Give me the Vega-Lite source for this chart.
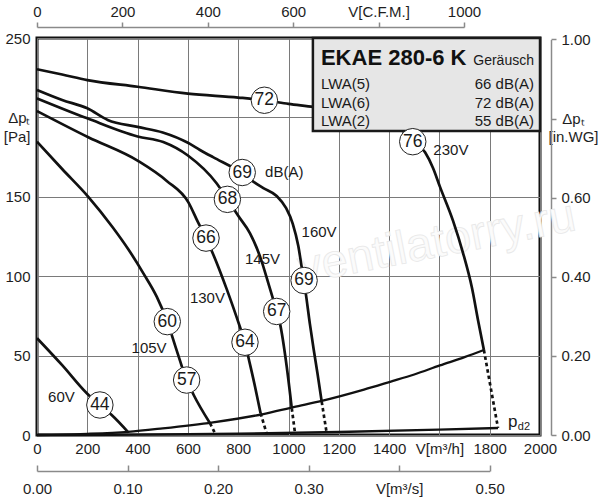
{
  "$schema": "https://vega.github.io/schema/vega-lite/v6.json",
  "width": 503,
  "height": 397,
  "autosize": "none",
  "padding": {"left": 37, "top": 38, "right": 60, "bottom": 65},
  "background": "white",
  "config": {
    "font": "Liberation Sans",
    "view": {"stroke": "#111", "strokeWidth": 3},
    "axis": {"labelFont": "Liberation Sans", "labelColor": "#1e1e1e", "labelFontSize": 15, "labelFlush": false, "title": null}
  },
  "datasets": {
    "curves": [
      {"s": "230V", "k": "solid", "v": 0, "p": 230.3},
      {"s": "230V", "k": "solid", "v": 100, "p": 227},
      {"s": "230V", "k": "solid", "v": 200, "p": 223.5},
      {"s": "230V", "k": "solid", "v": 400, "p": 219.3},
      {"s": "230V", "k": "solid", "v": 600, "p": 215},
      {"s": "230V", "k": "solid", "v": 800, "p": 212.5},
      {"s": "230V", "k": "solid", "v": 904, "p": 210.8},
      {"s": "230V", "k": "solid", "v": 1000, "p": 208.5},
      {"s": "230V", "k": "solid", "v": 1100, "p": 206.5},
      {"s": "230V", "k": "solid", "v": 1200, "p": 204},
      {"s": "230V", "k": "solid", "v": 1300, "p": 201},
      {"s": "230V", "k": "solid", "v": 1400, "p": 197},
      {"s": "230V", "k": "solid", "v": 1450, "p": 192},
      {"s": "230V", "k": "solid", "v": 1494, "p": 185.5},
      {"s": "230V", "k": "solid", "v": 1543, "p": 178},
      {"s": "230V", "k": "solid", "v": 1575, "p": 168},
      {"s": "230V", "k": "solid", "v": 1602, "p": 156.4},
      {"s": "230V", "k": "solid", "v": 1654, "p": 135},
      {"s": "230V", "k": "solid", "v": 1694, "p": 114.6},
      {"s": "230V", "k": "solid", "v": 1729, "p": 93},
      {"s": "230V", "k": "solid", "v": 1754, "p": 72},
      {"s": "230V", "k": "solid", "v": 1777, "p": 53.5},
      {"s": "230V", "k": "dash", "v": 1777, "p": 53.5},
      {"s": "230V", "k": "dash", "v": 1833, "p": 4.4},
      {"s": "160V", "k": "solid", "v": 0, "p": 217.3},
      {"s": "160V", "k": "solid", "v": 100, "p": 211},
      {"s": "160V", "k": "solid", "v": 200, "p": 205.7},
      {"s": "160V", "k": "solid", "v": 281, "p": 198.4},
      {"s": "160V", "k": "solid", "v": 400, "p": 194},
      {"s": "160V", "k": "solid", "v": 500, "p": 190.5},
      {"s": "160V", "k": "solid", "v": 600, "p": 184},
      {"s": "160V", "k": "solid", "v": 648, "p": 179.5},
      {"s": "160V", "k": "solid", "v": 700, "p": 175},
      {"s": "160V", "k": "solid", "v": 760, "p": 170},
      {"s": "160V", "k": "solid", "v": 816, "p": 165.3},
      {"s": "160V", "k": "solid", "v": 860, "p": 159.5},
      {"s": "160V", "k": "solid", "v": 900, "p": 155.5},
      {"s": "160V", "k": "solid", "v": 953, "p": 150.5},
      {"s": "160V", "k": "solid", "v": 990, "p": 143},
      {"s": "160V", "k": "solid", "v": 1017, "p": 133},
      {"s": "160V", "k": "solid", "v": 1039, "p": 119},
      {"s": "160V", "k": "solid", "v": 1055, "p": 103},
      {"s": "160V", "k": "solid", "v": 1068, "p": 90},
      {"s": "160V", "k": "solid", "v": 1085, "p": 70},
      {"s": "160V", "k": "solid", "v": 1100, "p": 54},
      {"s": "160V", "k": "solid", "v": 1115, "p": 39},
      {"s": "160V", "k": "solid", "v": 1132, "p": 21},
      {"s": "160V", "k": "dash", "v": 1132, "p": 21},
      {"s": "160V", "k": "dash", "v": 1152, "p": 1},
      {"s": "145V", "k": "solid", "v": 0, "p": 212},
      {"s": "145V", "k": "solid", "v": 200, "p": 199.4},
      {"s": "145V", "k": "solid", "v": 400, "p": 188},
      {"s": "145V", "k": "solid", "v": 502, "p": 184.5},
      {"s": "145V", "k": "solid", "v": 600, "p": 176},
      {"s": "145V", "k": "solid", "v": 714, "p": 158.5},
      {"s": "145V", "k": "solid", "v": 757, "p": 148.4},
      {"s": "145V", "k": "solid", "v": 800, "p": 138},
      {"s": "145V", "k": "solid", "v": 847, "p": 127},
      {"s": "145V", "k": "solid", "v": 887, "p": 112.3},
      {"s": "145V", "k": "solid", "v": 920, "p": 95.5},
      {"s": "145V", "k": "solid", "v": 953, "p": 77.8},
      {"s": "145V", "k": "solid", "v": 966, "p": 70.3},
      {"s": "145V", "k": "solid", "v": 993, "p": 43},
      {"s": "145V", "k": "solid", "v": 1013, "p": 16.8},
      {"s": "145V", "k": "dash", "v": 1013, "p": 16.8},
      {"s": "145V", "k": "dash", "v": 1026, "p": 1},
      {"s": "130V", "k": "solid", "v": 0, "p": 204},
      {"s": "130V", "k": "solid", "v": 204, "p": 187.5},
      {"s": "130V", "k": "solid", "v": 403, "p": 172.5},
      {"s": "130V", "k": "solid", "v": 516, "p": 160},
      {"s": "130V", "k": "solid", "v": 602, "p": 146.5},
      {"s": "130V", "k": "solid", "v": 640, "p": 134},
      {"s": "130V", "k": "solid", "v": 672, "p": 124},
      {"s": "130V", "k": "solid", "v": 700, "p": 114},
      {"s": "130V", "k": "solid", "v": 754, "p": 92},
      {"s": "130V", "k": "solid", "v": 807, "p": 68},
      {"s": "130V", "k": "solid", "v": 827, "p": 58.4},
      {"s": "130V", "k": "solid", "v": 840, "p": 49.3},
      {"s": "130V", "k": "solid", "v": 867, "p": 30.4},
      {"s": "130V", "k": "solid", "v": 889, "p": 13.7},
      {"s": "130V", "k": "dash", "v": 889, "p": 13.7},
      {"s": "130V", "k": "dash", "v": 913, "p": 1},
      {"s": "105V", "k": "solid", "v": 0, "p": 184.7},
      {"s": "105V", "k": "solid", "v": 100, "p": 167.5},
      {"s": "105V", "k": "solid", "v": 204, "p": 150},
      {"s": "105V", "k": "solid", "v": 300, "p": 131},
      {"s": "105V", "k": "solid", "v": 365, "p": 116.5},
      {"s": "105V", "k": "solid", "v": 423, "p": 101.8},
      {"s": "105V", "k": "solid", "v": 476, "p": 87.1},
      {"s": "105V", "k": "solid", "v": 518, "p": 71.4},
      {"s": "105V", "k": "solid", "v": 556, "p": 53},
      {"s": "105V", "k": "solid", "v": 595, "p": 34.6},
      {"s": "105V", "k": "solid", "v": 622, "p": 25.5},
      {"s": "105V", "k": "solid", "v": 688, "p": 7.4},
      {"s": "105V", "k": "dash", "v": 688, "p": 7.4},
      {"s": "105V", "k": "dash", "v": 708, "p": 1},
      {"s": "60V", "k": "solid", "v": 0, "p": 61},
      {"s": "60V", "k": "solid", "v": 100, "p": 44},
      {"s": "60V", "k": "solid", "v": 198, "p": 26.3},
      {"s": "60V", "k": "solid", "v": 250, "p": 18.9},
      {"s": "60V", "k": "solid", "v": 297, "p": 12.6},
      {"s": "60V", "k": "solid", "v": 363, "p": 1.7},
      {"s": "sys", "k": "sys", "v": 0, "p": 0},
      {"s": "sys", "k": "sys", "v": 100, "p": 0.2},
      {"s": "sys", "k": "sys", "v": 200, "p": 0.7},
      {"s": "sys", "k": "sys", "v": 362, "p": 2},
      {"s": "sys", "k": "sys", "v": 500, "p": 4.2},
      {"s": "sys", "k": "sys", "v": 700, "p": 8},
      {"s": "sys", "k": "sys", "v": 900, "p": 13.2},
      {"s": "sys", "k": "sys", "v": 1020, "p": 17.6},
      {"s": "sys", "k": "sys", "v": 1132, "p": 21.5},
      {"s": "sys", "k": "sys", "v": 1300, "p": 28.6},
      {"s": "sys", "k": "sys", "v": 1404, "p": 33.5},
      {"s": "sys", "k": "sys", "v": 1500, "p": 38.1},
      {"s": "sys", "k": "sys", "v": 1602, "p": 43.8},
      {"s": "sys", "k": "sys", "v": 1700, "p": 49},
      {"s": "sys", "k": "sys", "v": 1777, "p": 53.5},
      {"s": "pd2", "k": "sys", "v": 0, "p": 0},
      {"s": "pd2", "k": "sys", "v": 400, "p": 0.2},
      {"s": "pd2", "k": "sys", "v": 800, "p": 0.8},
      {"s": "pd2", "k": "sys", "v": 1200, "p": 1.9},
      {"s": "pd2", "k": "sys", "v": 1600, "p": 3.4},
      {"s": "pd2", "k": "sys", "v": 1833, "p": 4.4}
    ],
    "circles": [
      {"t": "72", "v": 904, "p": 210.8},
      {"t": "76", "v": 1494, "p": 184.7},
      {"t": "69", "v": 816, "p": 165.3},
      {"t": "68", "v": 757, "p": 148.4},
      {"t": "66", "v": 672, "p": 124},
      {"t": "69", "v": 1062, "p": 97.3},
      {"t": "67", "v": 953, "p": 77.8},
      {"t": "64", "v": 827, "p": 58.4},
      {"t": "60", "v": 518, "p": 71.4},
      {"t": "57", "v": 595, "p": 34.6},
      {"t": "44", "v": 250, "p": 18.9}
    ],
    "labels": [
      {"t": "dB(A)", "v": 907, "p": 165.4},
      {"t": "160V", "v": 1052, "p": 128},
      {"t": "145V", "v": 827, "p": 111},
      {"t": "130V", "v": 608, "p": 86},
      {"t": "105V", "v": 376, "p": 54.6},
      {"t": "60V", "v": 44, "p": 24},
      {"t": "230V", "v": 1576, "p": 179.5}
    ],
    "box": [{"v": 1097, "v2": 2000, "p": 191.5, "p2": 250}],
    "boxLeft": [
      {"t": "LWA(5)", "v": 1129, "p": 217.9},
      {"t": "LWA(6)", "v": 1129, "p": 205.9},
      {"t": "LWA(2)", "v": 1129, "p": 194.6}
    ],
    "boxRight": [
      {"t": "66 dB(A)", "v": 1976, "p": 217.9},
      {"t": "72 dB(A)", "v": 1976, "p": 205.9},
      {"t": "55 dB(A)", "v": 1976, "p": 194.6}
    ]
  },
  "layer": [
    {
      "encoding": {
        "x": {
          "field": "v",
          "type": "quantitative",
          "scale": {"domain": [0, 2000], "nice": false},
          "axis": {
            "values": [0, 200, 400, 600, 800, 1000, 1200, 1400, 1600, 1800, 2000],
            "format": "d",
            "labelExpr": "datum.value == 1600 ? 'V[m³/h]' : datum.label",
            "grid": true,
            "gridColor": "#7a7a7a",
            "gridWidth": 1,
            "ticks": false,
            "domain": false,
            "labelPadding": 6
          }
        },
        "y": {
          "field": "p",
          "type": "quantitative",
          "scale": {"domain": [0, 250], "nice": false},
          "axis": {
            "values": [0, 50, 100, 150, 200, 250],
            "labelExpr": "datum.value == 200 ? ['Δpₜ', '[Pa]'] : datum.label",
            "labelLineHeight": 19,
            "grid": true,
            "gridColor": "#7a7a7a",
            "gridWidth": 1,
            "ticks": false,
            "domain": false,
            "labelPadding": 7
          }
        }
      },
      "layer": [
        {
          "data": {"values": [{"t": "ventilatorry.ru", "v": 1590, "p": 121}]},
          "mark": {"type": "text", "fontSize": 47, "angle": -11, "fill": "#fbfbfb", "stroke": "#e8e8e8", "strokeWidth": 0.8},
          "encoding": {"text": {"field": "t"}}
        },
        {
          "data": {"name": "curves"},
          "transform": [{"filter": "datum.k == 'sys'"}],
          "mark": {"type": "line", "color": "#111", "strokeWidth": 2.3, "interpolate": "monotone"},
          "encoding": {"detail": {"field": "s"}}
        },
        {
          "data": {"name": "curves"},
          "transform": [{"filter": "datum.k == 'solid'"}],
          "mark": {"type": "line", "color": "#111", "strokeWidth": 2.7, "interpolate": "monotone"},
          "encoding": {"detail": {"field": "s"}}
        },
        {
          "data": {"name": "curves"},
          "transform": [{"filter": "datum.k == 'dash'"}],
          "mark": {"type": "line", "color": "#111", "strokeWidth": 2.7, "strokeDash": [3.5, 3]},
          "encoding": {"detail": {"field": "s"}}
        },
        {
          "data": {"name": "box"},
          "mark": {"type": "rect", "fill": "#e6e6e6", "stroke": "#1a1a1a", "strokeWidth": 2.5},
          "encoding": {"x2": {"field": "v2"}, "y2": {"field": "p2"}}
        },
        {
          "data": {"name": "circles"},
          "mark": {"type": "point", "shape": "circle", "filled": true, "fill": "white", "stroke": "#222", "strokeWidth": 1, "size": 700, "opacity": 1}
        },
        {
          "data": {"name": "circles"},
          "mark": {"type": "text", "fontSize": 17.5, "color": "#1a1a1a", "align": "center", "baseline": "middle"},
          "encoding": {"text": {"field": "t"}}
        },
        {
          "data": {"name": "labels"},
          "mark": {"type": "text", "fontSize": 15, "color": "#1a1a1a", "align": "left", "baseline": "middle"},
          "encoding": {"text": {"field": "t"}}
        },
        {
          "data": {"values": [{"t": "p", "v": 1873, "p": 5.2}]},
          "mark": {"type": "text", "fontSize": 17, "color": "#1a1a1a", "align": "left", "baseline": "alphabetic"},
          "encoding": {"text": {"field": "t"}}
        },
        {
          "data": {"values": [{"t": "d2", "v": 1912, "p": 3.4}]},
          "mark": {"type": "text", "fontSize": 11, "color": "#1a1a1a", "align": "left", "baseline": "alphabetic"},
          "encoding": {"text": {"field": "t"}}
        },
        {
          "data": {"values": [{"t": "EKAE 280-6 K", "v": 1129, "p": 233}]},
          "mark": {"type": "text", "fontSize": 22, "fontWeight": "bold", "color": "#111", "align": "left", "baseline": "alphabetic"},
          "encoding": {"text": {"field": "t"}}
        },
        {
          "data": {"values": [{"t": "Geräusch", "v": 1976, "p": 233}]},
          "mark": {"type": "text", "fontSize": 14, "color": "#1a1a1a", "align": "right", "baseline": "alphabetic"},
          "encoding": {"text": {"field": "t"}}
        },
        {
          "data": {"name": "boxLeft"},
          "mark": {"type": "text", "fontSize": 15, "color": "#1a1a1a", "align": "left", "baseline": "alphabetic"},
          "encoding": {"text": {"field": "t"}}
        },
        {
          "data": {"name": "boxRight"},
          "mark": {"type": "text", "fontSize": 15, "color": "#1a1a1a", "align": "right", "baseline": "alphabetic"},
          "encoding": {"text": {"field": "t"}}
        }
      ]
    },
    {
      "data": {"values": [{"cfm": 0}, {"cfm": 1000}]},
      "mark": {"type": "point", "opacity": 0},
      "encoding": {
        "x": {
          "field": "cfm",
          "type": "quantitative",
          "scale": {"domain": [0, 1000], "range": [0, 427], "nice": false},
          "axis": {
            "orient": "top",
            "offset": 11,
            "values": [0, 200, 400, 600, 800, 1000],
            "format": "d",
            "labelExpr": "datum.value == 800 ? 'V[C.F.M.]' : datum.label",
            "grid": false,
            "domainColor": "#8a8a8a",
            "domainWidth": 1.5,
            "tickColor": "#8a8a8a",
            "tickWidth": 1.5,
            "tickSize": 5,
            "labelPadding": 3
          }
        }
      }
    },
    {
      "data": {"values": [{"ms": 0}, {"ms": 0.5}]},
      "mark": {"type": "point", "opacity": 0},
      "encoding": {
        "x": {
          "field": "ms",
          "type": "quantitative",
          "scale": {"domain": [0, 0.5], "range": [0, 452.7], "nice": false},
          "axis": {
            "orient": "bottom",
            "offset": 36,
            "values": [0, 0.1, 0.2, 0.3, 0.4, 0.5],
            "format": ".2f",
            "labelExpr": "datum.value == 0.4 ? 'V[m³/s]' : datum.label",
            "grid": false,
            "domainColor": "#8a8a8a",
            "domainWidth": 1.5,
            "tickColor": "#8a8a8a",
            "tickWidth": 1.5,
            "tickSize": -6,
            "labelPadding": 16
          }
        }
      }
    },
    {
      "data": {"values": [{"wg": 0}, {"wg": 1}]},
      "mark": {"type": "point", "opacity": 0},
      "encoding": {
        "y": {
          "field": "wg",
          "type": "quantitative",
          "scale": {"domain": [0, 1], "range": [397, 1.45], "nice": false},
          "axis": {
            "orient": "right",
            "offset": 11,
            "values": [0, 0.2, 0.4, 0.6, 0.8, 1],
            "format": ".2f",
            "labelExpr": "datum.value == 0.8 ? ['Δpₜ', '[in.WG]'] : datum.label",
            "labelLineHeight": 18,
            "labelAlign": {"condition": {"test": "datum.value == 0.8", "value": "center"}, "value": "left"},
            "labelPadding": {"condition": {"test": "datum.value == 0.8", "value": 17}, "value": 5},
            "grid": false,
            "domainColor": "#8a8a8a",
            "domainWidth": 1.5,
            "tickColor": "#8a8a8a",
            "tickWidth": 1.5,
            "tickSize": 5
          }
        }
      }
    }
  ],
  "resolve": {"scale": {"x": "independent", "y": "independent"}}
}
